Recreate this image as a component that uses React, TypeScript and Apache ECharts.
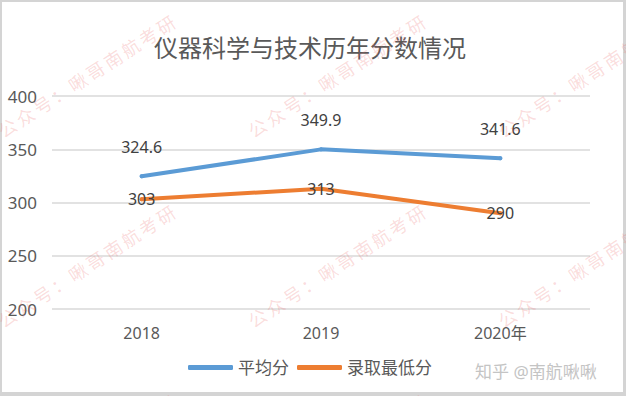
import React, { useEffect, useRef } from "react";
import * as echarts from "echarts";

const categories = ["2018", "2019", "2020年"];
const avgScores = [324.6, 349.9, 341.6];
const minScores = [303, 313, 290];
const seriesNames = ["平均分", "录取最低分"];
const yTicks = { min: 200, max: 400, interval: 50 };
const titleText = "仪器科学与技术历年分数情况";
const watermarkText = "公众号：啾哥南航考研";
const creditText = "知乎 @南航啾啾";

export default function App() {
  const ref = useRef<HTMLDivElement>(null);
  useEffect(() => {
    const chart = echarts.init(ref.current!, null, { renderer: "svg" });
    const font = "'Noto Sans', 'Noto Sans CJK SC', sans-serif";
    const spaced = watermarkText.split("").join("\u2009");
    const wm: any[] = [];
    for (const y0 of [133, 323, 513]) {
      for (const x0 of [0, 250, 500]) {
        wm.push({
          type: "text",
          x: x0,
          y: y0,
          rotation: (33 * Math.PI) / 180,
          z: 100,
          silent: true,
          style: {
            text: spaced,
            fontSize: 18,
            fontFamily: font,
            fill: "rgba(235,100,100,0.22)",
            textAlign: "left",
            textVerticalAlign: "middle",
            align: "left",
            verticalAlign: "middle",
          },
        });
      }
    }
    wm.push({
      type: "text",
      x: 475,
      y: 371,
      z: 100,
      style: {
        text: creditText,
        fontSize: 17,
        fontFamily: font,
        fill: "#c4c4c4",
        textVerticalAlign: "middle",
        verticalAlign: "middle",
      },
    });
    chart.setOption({
      animation: false,
      textStyle: { fontFamily: font },
      title: {
        text: titleText,
        left: 149,
        top: 30,
        textStyle: { fontSize: 24, color: "#595959", fontWeight: "normal", fontFamily: font },
      },
      grid: { left: 52, right: 36, top: 96, bottom: 87 },
      legend: {
        left: 183,
        top: 354,
        itemWidth: 45,
        itemHeight: 5,
        itemGap: 8,
        icon: "roundRect",
        textStyle: { fontSize: 17, color: "#595959", fontFamily: font },
        data: seriesNames,
      },
      xAxis: {
        type: "category",
        data: categories,
        axisLine: { show: false },
        axisTick: { show: false },
        axisLabel: { fontSize: 16, color: "#595959", margin: 16 },
      },
      yAxis: {
        type: "value",
        min: yTicks.min,
        max: yTicks.max,
        interval: yTicks.interval,
        axisLine: { show: false },
        axisTick: { show: false },
        axisLabel: { fontSize: 17, color: "#595959", margin: 15 },
        splitLine: { lineStyle: { color: "#d9d9d9", width: 1.5 } },
      },
      series: [
        {
          name: seriesNames[0],
          type: "line",
          data: avgScores,
          showSymbol: true,
          symbol: "circle",
          symbolSize: 4,
          itemStyle: { color: "#5B9BD5" },
          color: "#5B9BD5",
          lineStyle: { width: 4, color: "#5B9BD5", cap: "round" },
          label: { show: true, position: "top", distance: 19, fontSize: 16, color: "#404040" },
        },
        {
          name: seriesNames[1],
          type: "line",
          data: minScores,
          showSymbol: true,
          symbol: "circle",
          symbolSize: 4,
          itemStyle: { color: "#ED7D31" },
          color: "#ED7D31",
          lineStyle: { width: 4, color: "#ED7D31", cap: "round" },
          label: { show: true, position: "inside", fontSize: 16, color: "#404040" },
        },
      ],
      graphic: wm,
    });
    return () => chart.dispose();
  }, []);
  return (
    <div style={{ position: "fixed", left: 0, top: 0, width: 626, height: 396, background: "#d4d4d4" }}>
      <div style={{ position: "absolute", left: 2, top: 2, width: 621, height: 390, background: "#ffffff" }} />
      <div ref={ref} style={{ position: "absolute", left: 0, top: 0, width: 626, height: 396 }} />
    </div>
  );
}
